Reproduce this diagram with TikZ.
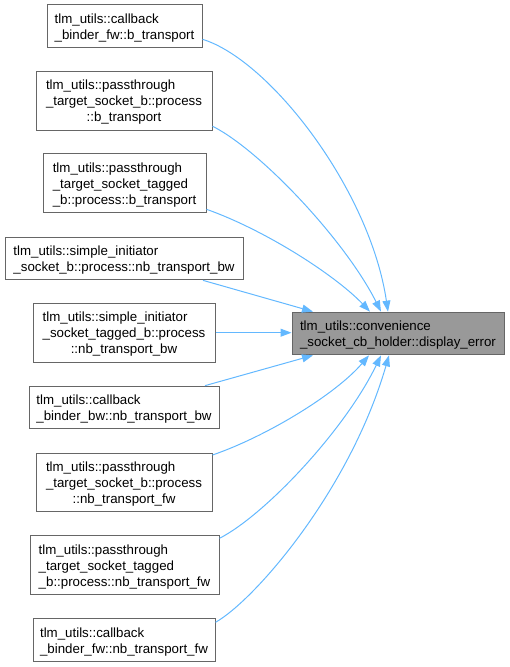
\documentclass[tikz,border=0pt]{standalone}
\usepackage{fontspec}
\setmainfont{Liberation Sans}
\usetikzlibrary{arrows.meta,calc}
\definecolor{edgeblue}{HTML}{63B8FF}
\definecolor{boxborder}{HTML}{666666}
\definecolor{rootfill}{HTML}{999999}
\newcommand{\dlabel}[2]{\raisebox{-2pt}[\height][\depth]{\begin{tabular}{@{}l@{}}#1\multicolumn{1}{@{}c@{}}{#2}\end{tabular}}}
\tikzset{
  fnbox/.style={draw=boxborder, fill=white, line width=1pt, inner sep=0pt,
    font=\fontsize{13.3}{16}\selectfont, text=black},
  twoline/.style={fnbox, minimum height=42.7pt},
  threeline/.style={fnbox, minimum height=58.7pt},
  rootbox/.style={twoline, fill=rootfill},
  calls/.style={draw=edgeblue, line width=1pt, -{Triangle[length=11pt,width=8pt]}}
}
\begin{document}
\begin{tikzpicture}[x=1pt,y=-1pt]
\useasboundingbox (0,0) rectangle (509,667);
\node[twoline, minimum width=155pt] (n1) at (124.5,26.3) {\dlabel{tlm\_utils::callback\\}{\_binder\_fw::b\_transport}};
\node[threeline, minimum width=176pt] (n2) at (124,100.7) {\dlabel{tlm\_utils::passthrough\\\_target\_socket\_b::process\\}{::b\_transport}};
\node[threeline, minimum width=163pt] (n3) at (124.5,183.3) {\dlabel{tlm\_utils::passthrough\\\_target\_socket\_tagged\\}{\_b::process::b\_transport}};
\node[twoline, minimum width=238pt] (n4) at (124,258.5) {\dlabel{tlm\_utils::simple\_initiator\\}{\_socket\_b::process::nb\_transport\_bw}};
\node[threeline, minimum width=182pt] (n5) at (124,332.7) {\dlabel{tlm\_utils::simple\_initiator\\\_socket\_tagged\_b::process\\}{::nb\_transport\_bw}};
\node[twoline, minimum width=190pt] (n6) at (124,407.5) {\dlabel{tlm\_utils::callback\\}{\_binder\_bw::nb\_transport\_bw}};
\node[threeline, minimum width=176pt] (n7) at (124,482.5) {\dlabel{tlm\_utils::passthrough\\\_target\_socket\_b::process\\}{::nb\_transport\_fw}};
\node[threeline, minimum width=189pt] (n8) at (124.5,565.3) {\dlabel{tlm\_utils::passthrough\\\_target\_socket\_tagged\\}{\_b::process::nb\_transport\_fw}};
\node[twoline, minimum width=182pt] (n9) at (124,640.3) {\dlabel{tlm\_utils::callback\\}{\_binder\_fw::nb\_transport\_fw}};
\node[rootbox, minimum width=212pt] (t) at (398,333.5) {\dlabel{tlm\_utils::convenience\\}{\_socket\_cb\_holder::display\_error}};
% edges into the top side
\draw[calls] ($(n1.east)+(0,13)$) .. controls (270,60) and (370,190) .. ($(t.north)+(-10,0)$);
\draw[calls] ($(n2.east)+(0,25.5)$) .. controls (260,150) and (345,240) .. ($(t.north)+(-17,0)$);
\draw[calls] ($(n3.east)+(0,26)$) .. controls (265,230) and (335,275) .. ($(t.north)+(-28,0)$);
\draw[calls] ($(n4.south)+(79,0)$) -- ($(t.north)+(-85,0)$);
% straight edge
\draw[calls] (n5.east) -- (n5.east -| t.west);
% edges into the bottom side
\draw[calls] ($(n6.north)+(81,0)$) -- ($(t.south)+(-85,0)$);
\draw[calls] ($(n7.east)+(0,-27.5)$) .. controls (265,437) and (335,395) .. ($(t.south)+(-29,0)$);
\draw[calls] ($(n8.east)+(0,-27)$) .. controls (265,515) and (345,430) .. ($(t.south)+(-17,0)$);
\draw[calls] ($(n9.east)+(0,-18)$) .. controls (255,600) and (350,490) .. ($(t.south)+(-9,0)$);
\end{tikzpicture}
\end{document}
